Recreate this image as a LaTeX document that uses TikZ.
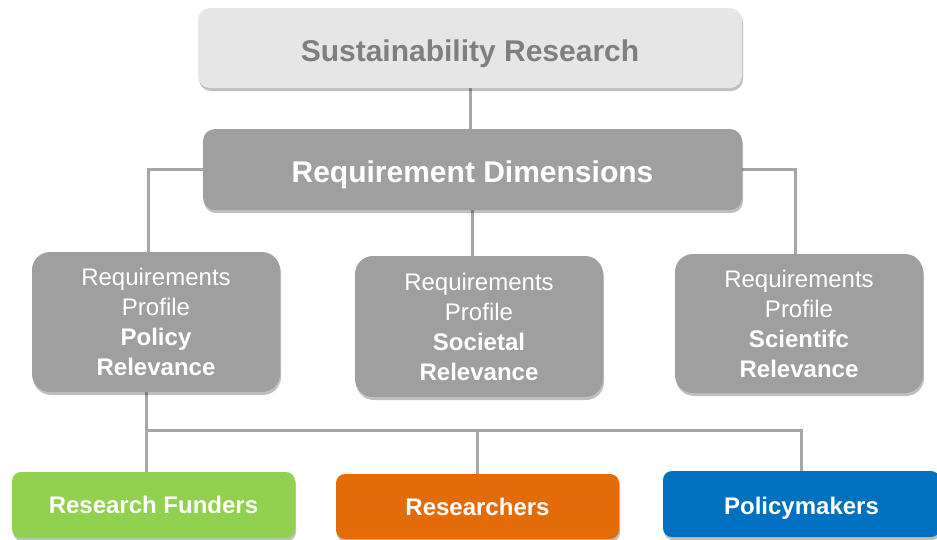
\documentclass[tikz,border=0pt]{standalone}
\usepackage{fontspec}
\setmainfont{Liberation Sans}
\usetikzlibrary{shadows,backgrounds}
\definecolor{srfill}{HTML}{E6E6E6}
\definecolor{srtext}{HTML}{7F7F7F}
\definecolor{midfill}{HTML}{9F9F9F}
\definecolor{conn}{HTML}{A6A6A6}
\definecolor{fgreen}{HTML}{92D050}
\definecolor{forange}{HTML}{E36C09}
\definecolor{fblue}{HTML}{0070C0}
\tikzset{
  shad/.style={drop shadow={shadow xshift=1pt,shadow yshift=-3pt,opacity=0.25,fill=black}},
  topbox/.style={shad,rectangle,rounded corners=12pt,inner sep=0pt,align=center,text depth=0pt,font=\bfseries\fontsize{30}{36}\selectfont},
  profbox/.style={shad,rectangle,rounded corners=18pt,fill=midfill,text=white,inner sep=0pt,align=center,
     minimum width=248pt,minimum height=140pt,font=\fontsize{24}{30}\selectfont},
  grpbox/.style={shad,rectangle,rounded corners=9pt,text=white,inner sep=0pt,align=center,
     minimum width=283pt,minimum height=66pt,font=\bfseries\fontsize{24}{30}\selectfont},
  link/.style={draw=conn,line width=3pt}
}
\begin{document}
\begin{tikzpicture}[x=1pt,y=-1pt]
\useasboundingbox (0,0) rectangle (937,539);
\node[topbox,fill=srfill,text=srtext,minimum width=544pt,minimum height=80pt,text height=27pt] (sr) at (470,48) {Sustainability Research};
\node[topbox,fill=midfill,text=white,minimum width=539pt,minimum height=81pt,text height=25pt] (rd) at (472.5,169.5) {Requirement Dimensions};
\node[profbox] (p1) at (156,322) {Requirements\\Profile\\\textbf{Policy}\\\textbf{Relevance}};
\node[profbox,minimum height=141pt] (p2) at (479,326.5) {Requirements\\Profile\\\textbf{Societal}\\\textbf{Relevance}};
\node[profbox,minimum height=139pt] (p3) at (799,323.5) {Requirements\\Profile\\\textbf{Scientifc}\\\textbf{Relevance}};
\node[grpbox,fill=fgreen] (rf) at (153.5,505) {Research Funders};
\node[grpbox,fill=forange,minimum height=65pt] (rs) at (477.5,506.5) {Researchers};
\node[grpbox,fill=fblue,minimum width=277pt,text depth=0pt,text height=20pt] (pm) at (801.5,504) {Policymakers};
\coordinate (j) at (146,430);
\coordinate (l1) at (148,0);
\coordinate (l3) at (795,0);
\begin{scope}[on background layer]
\draw[link] (sr.south) -- (sr.south |- rd.north);
\draw[link] (rd.west) -| (l1 |- p1.north);
\draw[link] (rd.east) -| (l3 |- p3.north);
\draw[link] (rd.south) -- (rd.south |- p2.north);
\draw[link] (j |- p1.south) -- (j) -- (j |- rf.north);
\draw[link] (j) -| (pm.north);
\draw[link] (rs.north) -- (rs.north |- j);
\end{scope}
\end{tikzpicture}
\end{document}
